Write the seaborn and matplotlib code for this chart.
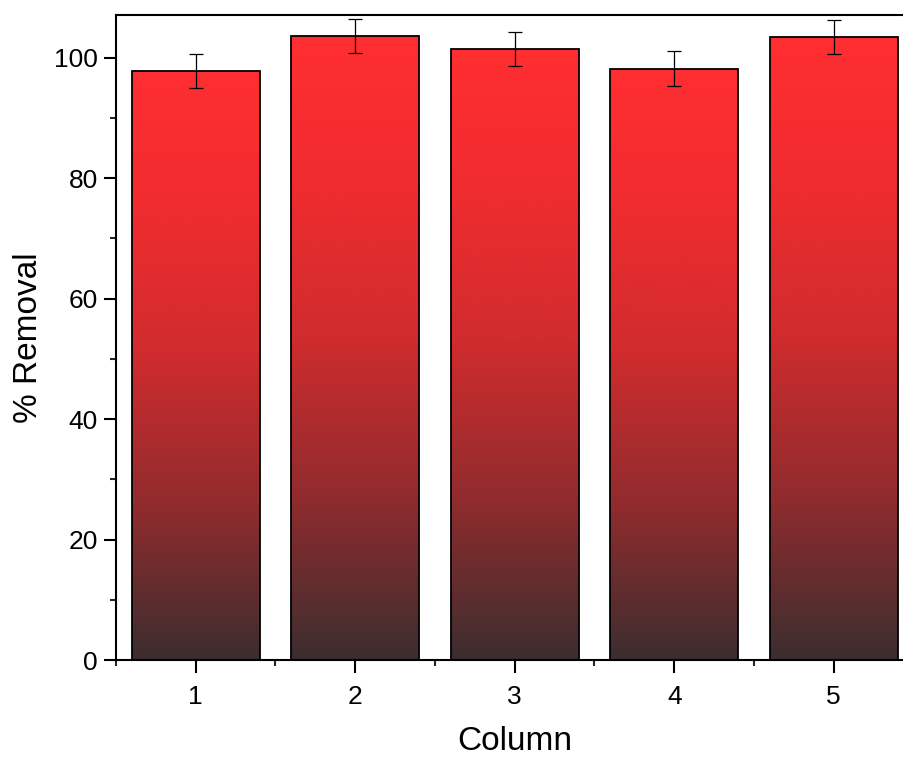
import numpy as np
import pandas as pd
import matplotlib
matplotlib.use('Agg')
import matplotlib.pyplot as plt
import seaborn as sns
from matplotlib.colors import LinearSegmentedColormap

# Data
columns = ['1', '2', '3', '4', '5']
removal = [97.8, 103.6, 101.5, 98.2, 103.5]
errors = [2.85, 2.85, 2.8, 2.95, 2.8]

sns.set_style('ticks')
plt.rcParams['font.family'] = ['Liberation Sans', 'DejaVu Sans']

# Gradient from dark bottom to red top
grad_cmap = LinearSegmentedColormap.from_list('redgrad', [
    (0.0, '#3c2e30'),
    (0.26, '#902b2d'),
    (0.52, '#d02c2e'),
    (0.77, '#f02c2f'),
    (1.0, '#ff2e31'),
])

df = pd.DataFrame({'Column': columns, 'Removal': removal})

fig = plt.figure(figsize=(9.04, 7.57), dpi=100)
ax = fig.add_axes([0.1283, 0.1281, 0.8822, 0.8521])

sns.barplot(data=df, x='Column', y='Removal', ax=ax, width=0.8,
            color='white', edgecolor='black', linewidth=1.3, errorbar=None)

gradient = np.linspace(0, 1, 256).reshape(-1, 1)
xs = []
for patch in ax.patches:
    x0, w, h = patch.get_x(), patch.get_width(), patch.get_height()
    xs.append(x0 + w / 2)
    patch.set_facecolor('none')
    patch.set_zorder(2)
    img = ax.imshow(gradient, cmap=grad_cmap, origin='lower', aspect='auto',
                    extent=[x0, x0 + w, 0, h], zorder=1, interpolation='bicubic')
    img.set_clip_path(patch)

ax.errorbar(xs, removal, yerr=errors, fmt='none', ecolor='black',
            elinewidth=0.9, capsize=4.7, capthick=0.9, zorder=3)

ax.set_xlim(-0.5, 4.5)
ax.set_ylim(0, 107.1)
ax.set_yticks([0, 20, 40, 60, 80, 100])
ax.set_yticks(np.arange(10, 107, 20), minor=True)
ax.set_xticks(np.arange(-0.5, 4.6, 1.0), minor=True)

for side in ['left', 'bottom', 'top', 'right']:
    ax.spines[side].set_visible(True)
    ax.spines[side].set_linewidth(1.5)
    ax.spines[side].set_color('black')

ax.tick_params(axis='both', which='major', direction='out', length=9, width=1.5,
               labelsize=19, colors='black')
ax.tick_params(axis='x', which='major', pad=9)
ax.tick_params(axis='y', which='major', pad=4)
ax.tick_params(axis='both', which='minor', direction='out', length=4.5, width=1.5)
ax.tick_params(top=False, right=False, which='both')

ax.set_xlabel('Column', fontsize=24, labelpad=12, color='black')
ax.set_ylabel('% Removal', fontsize=24, labelpad=7, color='black')

fig.savefig('out.png', dpi=100)
